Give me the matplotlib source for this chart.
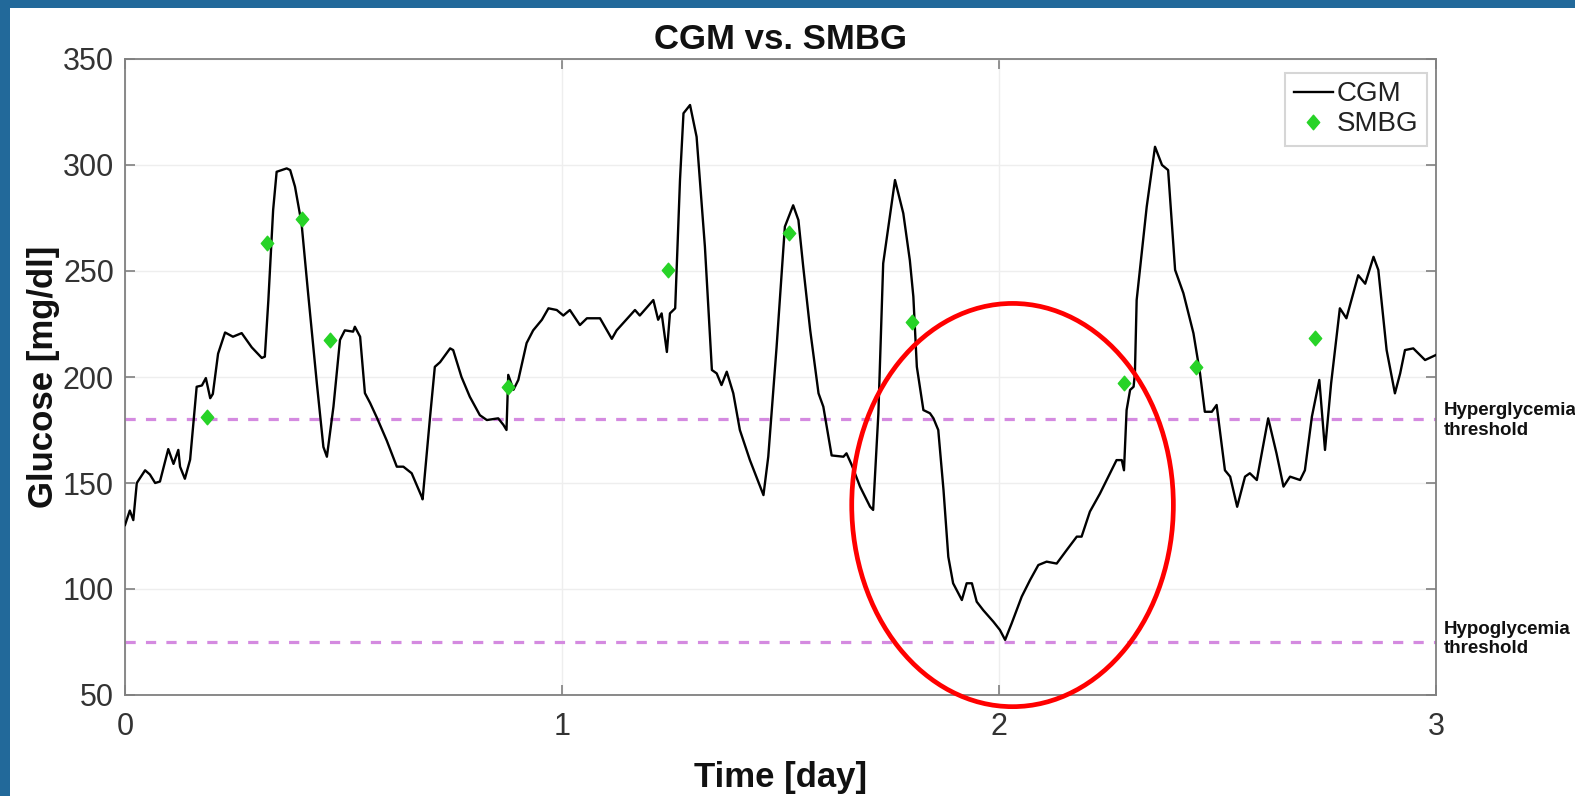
import matplotlib
matplotlib.use("Agg")
import matplotlib.pyplot as plt
from matplotlib.patches import Rectangle, Ellipse
from matplotlib.path import Path
import numpy as np

plt.rcParams['font.family'] = ['Liberation Sans', 'DejaVu Sans']

# ---- data (time in days, glucose in mg/dl) ----
cgm_time = [0.000, 0.011, 0.019, 0.027, 0.046, 0.057, 0.069, 0.080, 0.099, 0.111,
            0.122, 0.126, 0.137, 0.149, 0.164, 0.176, 0.185, 0.195, 0.201, 0.213,
            0.229, 0.247, 0.267, 0.290, 0.313, 0.320, 0.328, 0.339, 0.347, 0.370,
            0.378, 0.389, 0.404, 0.419, 0.439, 0.454, 0.462, 0.477, 0.492, 0.503,
            0.522, 0.526, 0.538, 0.549, 0.561, 0.576, 0.599, 0.622, 0.637, 0.656,
            0.679, 0.681, 0.698, 0.709, 0.721, 0.744, 0.751, 0.770, 0.789, 0.812,
            0.828, 0.854, 0.866, 0.873, 0.877, 0.889, 0.900, 0.919, 0.934, 0.954,
            0.969, 0.988, 1.003, 1.018, 1.041, 1.057, 1.087, 1.114, 1.125, 1.167,
            1.178, 1.209, 1.220, 1.228, 1.240, 1.247, 1.259, 1.270, 1.278, 1.293,
            1.308, 1.327, 1.343, 1.354, 1.365, 1.377, 1.392, 1.407, 1.430, 1.461,
            1.472, 1.491, 1.510, 1.529, 1.541, 1.552, 1.568, 1.587, 1.598, 1.617,
            1.644, 1.651, 1.663, 1.682, 1.705, 1.712, 1.724, 1.735, 1.762, 1.781,
            1.796, 1.804, 1.812, 1.827, 1.842, 1.850, 1.861, 1.873, 1.884, 1.895,
            1.915, 1.926, 1.938, 1.949, 1.964, 1.987, 2.002, 2.014, 2.029, 2.052,
            2.071, 2.090, 2.109, 2.132, 2.155, 2.178, 2.189, 2.208, 2.231, 2.254,
            2.269, 2.281, 2.286, 2.292, 2.300, 2.308, 2.311, 2.315, 2.338, 2.357,
            2.373, 2.387, 2.403, 2.422, 2.445, 2.460, 2.471, 2.487, 2.498, 2.517,
            2.529, 2.545, 2.563, 2.574, 2.590, 2.616, 2.635, 2.651, 2.666, 2.689,
            2.700, 2.716, 2.733, 2.746, 2.760, 2.780, 2.795, 2.822, 2.838, 2.857,
            2.868, 2.887, 2.906, 2.918, 2.929, 2.948, 2.975, 3.000]
cgm_glucose = [130.2, 137.0, 132.5, 150.0, 156.0, 154.0, 150.0, 150.7, 166.0, 159.0,
               165.6, 157.7, 152.0, 161.0, 195.4, 196.0, 199.5, 190.0, 192.0, 211.0,
               221.0, 219.0, 220.7, 214.0, 209.0, 209.6, 236.0, 278.8, 296.8, 298.4,
               297.6, 289.8, 272.5, 239.5, 197.0, 167.0, 162.4, 186.0, 217.5, 222.0,
               221.4, 223.7, 219.0, 192.4, 187.7, 181.0, 170.0, 157.7, 157.7, 154.6,
               143.5, 142.3, 181.0, 204.8, 207.0, 213.5, 212.7, 200.0, 190.7, 182.0,
               179.7, 180.5, 177.4, 175.0, 201.0, 194.0, 198.6, 216.0, 222.0, 227.0,
               232.4, 231.6, 229.0, 231.6, 224.5, 227.7, 227.7, 218.0, 222.0, 231.6,
               229.0, 236.3, 227.0, 230.0, 211.8, 230.0, 232.4, 292.9, 324.4, 328.3,
               313.3, 261.5, 203.3, 201.7, 196.2, 202.5, 192.3, 175.0, 160.8, 144.3,
               162.4, 214.0, 270.9, 281.0, 274.0, 252.0, 222.0, 192.3, 186.0, 163.0,
               162.4, 164.0, 158.5, 148.3, 138.8, 137.3, 182.9, 253.6, 292.9, 277.2,
               255.0, 237.9, 204.8, 184.4, 182.9, 180.5, 175.0, 146.7, 115.2, 102.7,
               94.8, 102.7, 102.7, 94.0, 90.0, 84.6, 80.7, 76.0, 83.8, 96.4,
               104.2, 111.3, 112.9, 112.0, 118.4, 124.7, 124.7, 136.5, 145.0, 154.6,
               160.8, 160.8, 156.0, 184.4, 193.9, 195.4, 201.7, 236.3, 280.3, 308.6,
               300.0, 297.6, 250.5, 239.5, 220.6, 201.7, 183.6, 183.6, 186.8, 156.0,
               153.0, 138.8, 153.0, 154.6, 151.4, 180.5, 164.0, 148.3, 153.0, 151.4,
               156.0, 181.3, 198.6, 165.6, 197.0, 232.4, 227.7, 248.0, 244.0, 256.7,
               250.5, 212.7, 192.3, 201.7, 212.7, 213.5, 208.0, 210.4]

smbg_time = [0.187, 0.324, 0.404, 0.468, 0.877, 1.243, 1.520, 1.802, 2.286, 2.450, 2.723]
smbg_glucose = [181.3, 263.0, 274.3, 217.5, 195.4, 250.5, 268.0, 226.0, 197.0, 204.8, 218.2]

hyper_threshold = 180
hypo_threshold = 75
x_ticks = [0, 1, 2, 3]
y_ticks = [50, 100, 150, 200, 250, 300, 350]

# ---- figure ----
fig = plt.figure(figsize=(15.75, 7.96), dpi=100, facecolor='#22699a')
fig.patches.append(Rectangle((10 / 1575, 0), 1, 1 - 8 / 796, transform=fig.transFigure,
                             facecolor='white', edgecolor='none', zorder=-10))

ax = fig.add_axes([125 / 1575, 1 - 695 / 796, (1436 - 125) / 1575, (695 - 59) / 796])
ax.set_facecolor('white')

diamond = Path([(0, 1), (0.85, 0), (0, -1), (-0.85, 0), (0, 1)],
               [Path.MOVETO, Path.LINETO, Path.LINETO, Path.LINETO, Path.CLOSEPOLY])

ax.axhline(hyper_threshold, color='#d48ae0', lw=2.3, dashes=(3.2, 3.2), zorder=2)
ax.axhline(hypo_threshold, color='#d48ae0', lw=2.3, dashes=(3.2, 3.2), zorder=2)

ax.plot(cgm_time, cgm_glucose, color='black', lw=1.7, label='CGM', zorder=3)
ax.plot(smbg_time, smbg_glucose, linestyle='none', marker=diamond, markersize=10.5,
        color='#27d327', markeredgecolor='#27d327', label='SMBG', zorder=4)

ax.set_xlim(0, 3)
ax.set_ylim(50, 350)
ax.set_xticks(x_ticks)
ax.set_yticks(y_ticks)
ax.grid(True, color='#eeeeee', lw=1.0, zorder=0)
ax.set_axisbelow(True)

for s in ax.spines.values():
    s.set_color('#808080')
    s.set_linewidth(1.3)
ax.tick_params(direction='in', length=7, width=1.2, color='#808080',
               labelcolor='#333333', labelsize=22, top=True, right=True)
ax.tick_params(axis='x', pad=12)
ax.tick_params(axis='y', pad=8)

ax.set_title('CGM vs. SMBG', fontsize=25, fontweight='bold', color='#111111', pad=7)
ax.set_xlabel('Time [day]', fontsize=25, fontweight='bold', color='#111111', labelpad=14)
ax.set_ylabel('Glucose [mg/dl]', fontsize=25, fontweight='bold', color='#111111', labelpad=2)

leg = ax.legend(loc='upper right', bbox_to_anchor=(0.993, 0.978), fontsize=20,
                frameon=True, fancybox=False, handlelength=1.4, handletextpad=0.15,
                labelspacing=0.15, borderpad=0.3, borderaxespad=0.0)
leg.get_frame().set_edgecolor('#cccccc')
leg.get_frame().set_linewidth(1.5)
for t in leg.get_texts():
    t.set_color('#222222')

ax.text(3.018, 188.0, 'Hyperglycemia\nthreshold', fontsize=13.5, fontweight='bold',
        color='#111111', va='top', ha='left', clip_on=False, linespacing=1.2)
ax.text(3.018, 85.0, 'Hypoglycemia\nthreshold', fontsize=13.5, fontweight='bold',
        color='#111111', va='top', ha='left', clip_on=False, linespacing=1.2)

ell = Ellipse((2.031, 139.6), 0.736, 190.2, fill=False, edgecolor='#ff0000',
              lw=3.4, zorder=6, clip_on=False)
ax.add_patch(ell)

fig.savefig('out.png', dpi=100, facecolor=fig.get_facecolor())
